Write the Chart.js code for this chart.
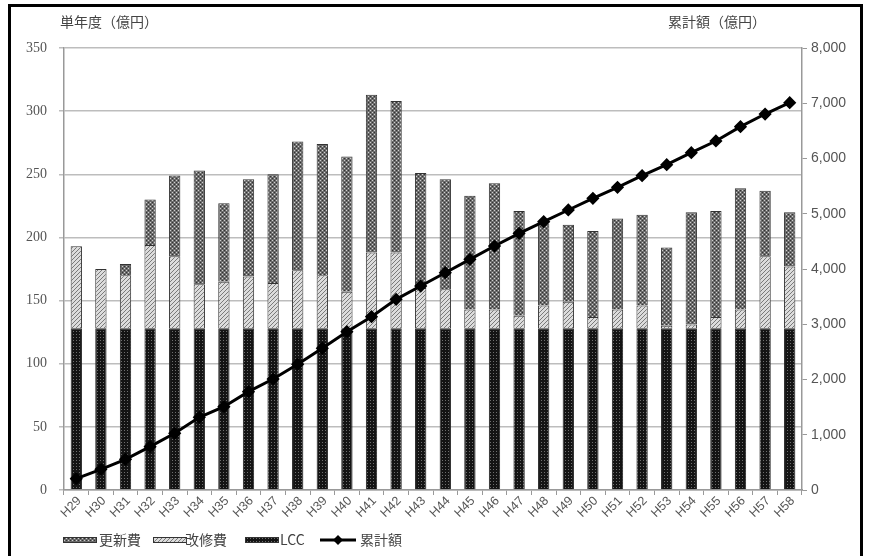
<!DOCTYPE html>
<html>
<head>
<meta charset="utf-8">
<script src="https://cdn.jsdelivr.net/npm/chart.js@4/dist/chart.umd.min.js"></script>
<style>
  html, body { margin: 0; padding: 0; background: #fff; }
  canvas { display: block; }
</style>
</head>
<body>
<canvas id="chart" width="869" height="556"></canvas>
<script>
// fiscal years
const years = ['H29','H30','H31','H32','H33','H34','H35','H36','H37','H38',
  'H39','H40','H41','H42','H43','H44','H45','H46','H47','H48',
  'H49','H50','H51','H52','H53','H54','H55','H56','H57','H58'];

// single-year costs (億円)
const lcc = [128,128,128,128,128,128,128,128,128,128,
  128,128,128,128,128,128,128,128,128,128,
  128,128,128,128,128,128,128,128,128,128];
const kaishu = [65,47,42,66,57,35,37,41,36,46,
  42,29,60,60,32,31,15,15,10,18,
  21,9,15,18,2,3,9,15,57,49];
const koshin = [0,0,9,36,64,90,62,77,86,102,
  104,107,125,120,91,87,90,100,83,65,
  61,68,72,72,62,89,84,96,52,43];

// cumulative total (億円)
const cumulative = [205,374,555,784,1026,1316,1508,1780,2009,2275,
  2564,2866,3137,3451,3692,3933,4175,4416,4646,4857,
  5068,5280,5479,5689,5888,6105,6317,6576,6805,7010];

const leftTicks = [0, 350, 50];
const rightTicks = [0, 8000, 1000];

// small fill tiles for the bar textures
function makePattern(size, draw) {
  const c = document.createElement('canvas');
  c.width = c.height = size;
  const g = c.getContext('2d');
  draw(g);
  return g.createPattern(c, 'repeat');
}
const koshinFill = makePattern(4, g => {
  g.fillStyle = '#6c6c6c'; g.fillRect(0, 0, 4, 4);
  g.fillStyle = '#d0d0d0'; g.fillRect(0, 0, 1, 1); g.fillRect(2, 2, 1, 1);
  g.fillStyle = '#333'; g.fillRect(2, 0, 1, 1); g.fillRect(0, 2, 1, 1);
});
const kaishuFill = makePattern(4, g => {
  g.fillStyle = '#dcdcdc'; g.fillRect(0, 0, 4, 4);
  g.fillStyle = '#7a7a7a';
  g.fillRect(0, 3, 1, 1); g.fillRect(1, 2, 1, 1); g.fillRect(2, 1, 1, 1); g.fillRect(3, 0, 1, 1);
});
const lccFill = makePattern(3, g => {
  g.fillStyle = '#141414'; g.fillRect(0, 0, 3, 3);
  g.fillStyle = '#6e6e6e'; g.fillRect(1, 1, 1, 1);
});

const jpFont = '"Noto Sans CJK JP", sans-serif';

// slanted year labels, titles, legend and outer frame
const decorations = {
  id: 'decorations',
  afterDraw(chart) {
    const ctx = chart.ctx;
    const xs = chart.scales.x;
    ctx.save();

    ctx.fillStyle = '#555';
    ctx.font = '12.5px "Liberation Sans", sans-serif';
    ctx.textAlign = 'right';
    ctx.textBaseline = 'middle';
    years.forEach((label, i) => {
      const px = xs.getPixelForTick(i);
      ctx.save();
      ctx.translate(px + 3, xs.top + 9);
      ctx.rotate(-Math.PI / 4);
      ctx.fillText(label, 0, 0);
      ctx.restore();
    });

    ctx.fillStyle = '#444';
    ctx.font = '14px ' + jpFont;
    ctx.textAlign = 'left';
    ctx.fillText('単年度（億円）', 60, 22);
    ctx.fillText('累計額（億円）', 668, 22);

    const ly = 540;
    ctx.font = '14px ' + jpFont;
    const boxes = [
      { fill: koshinFill, x: 63, tx: 99, text: '更新費' },
      { fill: kaishuFill, x: 153, tx: 185, text: '改修費' },
      { fill: lccFill, x: 245, tx: 280, text: 'LCC' }
    ];
    boxes.forEach(b => {
      ctx.fillStyle = b.fill;
      ctx.fillRect(b.x, ly - 3, 34, 6);
      ctx.strokeStyle = '#333';
      ctx.lineWidth = 1;
      ctx.strokeRect(b.x + 0.5, ly - 2.5, 33, 5);
      ctx.fillStyle = '#444';
      ctx.fillText(b.text, b.tx, ly);
    });
    ctx.strokeStyle = '#000';
    ctx.lineWidth = 3;
    ctx.beginPath(); ctx.moveTo(320, ly); ctx.lineTo(356, ly); ctx.stroke();
    ctx.fillStyle = '#000';
    ctx.beginPath();
    ctx.moveTo(338, ly - 5); ctx.lineTo(343, ly); ctx.lineTo(338, ly + 5); ctx.lineTo(333, ly);
    ctx.closePath(); ctx.fill();
    ctx.fillStyle = '#444';
    ctx.fillText('累計額', 360, ly);

    ctx.strokeStyle = '#000';
    ctx.lineWidth = 3;
    ctx.beginPath();
    ctx.moveTo(9.5, 560); ctx.lineTo(9.5, 5.5); ctx.lineTo(861.5, 5.5); ctx.lineTo(861.5, 560);
    ctx.stroke();
    ctx.restore();
  }
};

new Chart(document.getElementById('chart'), {
  type: 'bar',
  data: {
    labels: years,
    datasets: [
      {
        type: 'line', label: '累計額', data: cumulative, yAxisID: 'y2', order: 0,
        borderColor: '#000', borderWidth: 3, tension: 0,
        pointStyle: 'rectRot', pointRadius: 4.5,
        pointBackgroundColor: '#000', pointBorderColor: '#000'
      },
      { label: 'LCC', data: lcc, yAxisID: 'y', order: 1, backgroundColor: lccFill, borderColor: '#222', borderWidth: 1 },
      { label: '改修費', data: kaishu, yAxisID: 'y', order: 1, backgroundColor: kaishuFill, borderColor: '#333', borderWidth: 1 },
      { label: '更新費', data: koshin, yAxisID: 'y', order: 1, backgroundColor: koshinFill, borderColor: '#333', borderWidth: 1 }
    ]
  },
  options: {
    responsive: false,
    animation: false,
    layout: { padding: { top: 48, left: 0, right: 0, bottom: 0 } },
    barPercentage: 0.92,
    categoryPercentage: 0.5,
    plugins: { legend: { display: false }, tooltip: { enabled: false } },
    scales: {
      x: {
        stacked: true,
        afterFit(scale) { scale.height = 66; },
        grid: { drawOnChartArea: false, tickLength: 5, color: '#999', offset: true },
        border: { color: '#999', width: 1.5 },
        ticks: { display: false }
      },
      y: {
        stacked: true,
        position: 'left',
        min: leftTicks[0], max: leftTicks[1],
        afterFit(scale) { scale.width = 64; },
        grid: { color: '#bdbdbd', lineWidth: 1.5, tickLength: 5 },
        border: { color: '#999', width: 1.5 },
        ticks: { stepSize: leftTicks[2], padding: 12, color: '#555', font: { family: 'Liberation Serif', size: 14 } }
      },
      y2: {
        position: 'right',
        min: rightTicks[0], max: rightTicks[1],
        afterFit(scale) { scale.width = 67; },
        grid: { drawOnChartArea: false, color: '#999', tickLength: 5 },
        border: { color: '#999', width: 1.5 },
        ticks: {
          stepSize: rightTicks[2], padding: 4, color: '#555',
          font: { family: 'Liberation Sans', size: 14 },
          callback: v => v.toLocaleString('en-US')
        }
      }
    }
  },
  plugins: [decorations]
});
</script>
</body>
</html>
